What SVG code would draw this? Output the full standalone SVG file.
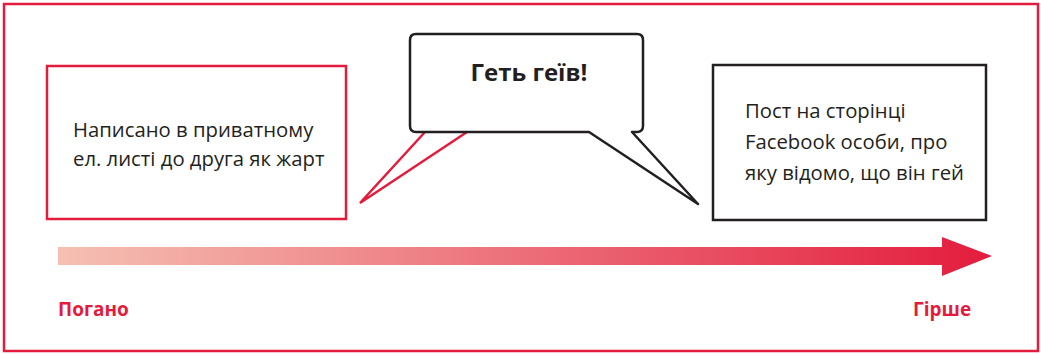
<svg xmlns="http://www.w3.org/2000/svg" width="1041" height="354" viewBox="0 0 1041 354">
<style>
.red{fill:none;stroke:#e31c3d;stroke-width:2.5}
.blk{fill:none;stroke:#231f20;stroke-width:2.5;stroke-linejoin:round}
.t{font-family:"Open Sans","Noto Sans",sans-serif;font-size:20.3px;fill:#231f20}
.b{font-family:"Open Sans","Noto Sans",sans-serif;font-size:24px;font-weight:bold;fill:#231f20}
.lab{font-family:"Open Sans","Noto Sans",sans-serif;font-size:19px;font-weight:bold;fill:#e31c3d}
</style>
<defs>
<linearGradient id="g" x1="58" y1="0" x2="992" y2="0" gradientUnits="userSpaceOnUse">
<stop offset="0" stop-color="#f5c0b3"/>
<stop offset="1" stop-color="#e31c3d"/>
</linearGradient>
</defs>
<rect x="4" y="4" width="1034" height="347" fill="#fff" class="red"/>
<g id="connectors">
<polyline class="red" points="425,132 360,203 467,132"/>
</g>
<g id="box-left">
<rect x="47" y="66" width="299" height="153" class="red"/>
<text class="t" x="73" y="137">Написано в приватному</text>
<text class="t" x="73" y="166">ел. листі до друга як жарт</text>
</g>
<g id="bubble">
<path class="blk" d="M416,34 H637 Q643,34 643,40 V126 Q643,132 637,132 H632 L698,204 L589,132 H416 Q410,132 410,126 V40 Q410,34 416,34 Z" style="fill:#fff"/>
<text class="b" x="529" y="81" text-anchor="middle">Геть геїв!</text>
</g>
<g id="box-right">
<rect x="713" y="65" width="273" height="155" class="blk" style="stroke-linejoin:miter"/>
<text class="t" x="745" y="118">Пост на сторінці</text>
<text class="t" x="745" y="149">Facebook особи, про</text>
<text class="t" x="745" y="180">яку відомо, що він гей</text>
</g>
<g id="scale">
<path d="M58,247 H942 V237 L992,256 L942,276 V265 H58 Z" fill="url(#g)"/>
<text class="lab" x="58" y="316">Погано</text>
<text class="lab" x="913" y="316">Гірше</text>
</g>
</svg>
